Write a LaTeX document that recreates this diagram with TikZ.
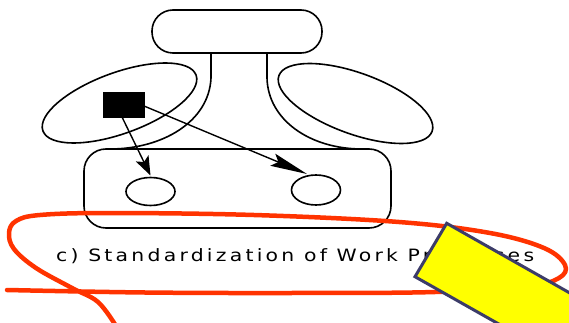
\documentclass[tikz,border=0pt]{standalone}
\usepackage{fontspec}
\newfontfamily\labelfont[LetterSpace=19,FakeStretch=1.2]{DejaVu Sans}
\usetikzlibrary{shapes.geometric,arrows.meta}
\definecolor{penred}{RGB}{255,51,0}
\definecolor{noteyellow}{RGB}{255,255,0}
\definecolor{noteedge}{RGB}{60,60,105}
\tikzset{
  part/.style={draw=black, line width=1.6pt, inner sep=0pt, outer sep=0pt},
  unit/.style={part, rectangle, rounded corners=#1},
  lobe/.style={part, ellipse, minimum width=163pt, minimum height=61pt},
  spot/.style={part, ellipse, minimum width=49pt},
  flow/.style={line width=1.4pt},
}
\begin{document}
\begin{tikzpicture}[x=1pt,y=-1pt]
  \useasboundingbox (0,0) rectangle (569,323);
  \clip (0,0) rectangle (569,323);
  \fill[white] (0,0) rectangle (569,323);

  % strategic apex and operating core
  \node[unit=21pt, minimum width=170pt, minimum height=43pt] (apex) at (237,31.5) {};
  \node[unit=22pt, minimum width=307pt, minimum height=79pt] (core) at (237.5,188.5) {};

  % middle line flaring into the core
  \draw[line width=1.6pt] (211,53) -- (211,78) .. controls (209,122) and (162,149) .. (110,149);
  \draw[line width=1.6pt] (267,53) -- (267,78) .. controls (268,120) and (310,149) .. (362,149);

  % technostructure and support staff
  \node[lobe, rotate=20] (techno) at (119.5,103) {};
  \node[lobe, rotate=-20] (support) at (355.5,103.5) {};

  % analyst and operators
  \node[part, fill=black, minimum width=40pt, minimum height=24pt] (analyst) at (124,105) {};
  \node[spot, minimum height=28pt] (op1) at (150.5,191.5) {};
  \node[spot, minimum height=30pt] (op2) at (316,190) {};

  \draw[flow, -{Stealth[length=19pt,width=14pt,inset=4pt]}]
    ([xshift=-2pt]analyst.south) -- ([yshift=2pt]op1.north);
  \draw[flow, -{Stealth[length=37pt,width=13pt,inset=6pt]}]
    ([yshift=-1pt]analyst.east) -- ([xshift=-9pt,yshift=1pt]op2.north);

  % caption
  \node[anchor=base west, inner sep=0pt, font=\labelfont\fontsize{17}{20}\selectfont] (caption)
    at (56,261.7) {c) Standardization of Work Processes};

  % red pen loop around the caption
  \draw[penred, line width=4.5pt, line cap=round, line join=round]
    plot[smooth, tension=0.6] coordinates {
      (116,326) (98,302) (72,288) (36,268) (14,249) (9,233) (16,221) (40,215)
      (109,213) (254,215) (399,222) (490,233) (544,248) (565,265) (559,278)
      (528,286) (435,292) (290,293) (145,292.5) (7,290)};

  % yellow marker bar
  \draw[noteedge, line width=3pt, fill=noteyellow, line join=miter]
    (446.7,223.3) -- (415,276.7) -- (589,375) -- (620.7,321.8) -- cycle;
\end{tikzpicture}
\end{document}
